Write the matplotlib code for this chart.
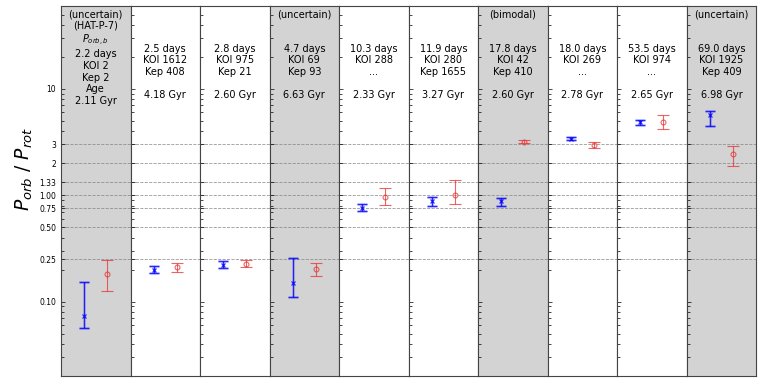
import matplotlib
matplotlib.use("Agg")
import matplotlib.pyplot as plt
import numpy as np
from matplotlib.ticker import FixedLocator, LogLocator, NullFormatter

# Column labels (one multi-line block per system)
headers = [
    "(uncertain)\n(HAT-P-7)\n$P_{orb,b}$\n2.2 days\nKOI 2\nKep 2\nAge\n2.11 Gyr",
    "\n\n\n2.5 days\nKOI 1612\nKep 408\n\n4.18 Gyr",
    "\n\n\n2.8 days\nKOI 975\nKep 21\n\n2.60 Gyr",
    "(uncertain)\n\n\n4.7 days\nKOI 69\nKep 93\n\n6.63 Gyr",
    "\n\n\n10.3 days\nKOI 288\n...\n\n2.33 Gyr",
    "\n\n\n11.9 days\nKOI 280\nKep 1655\n\n3.27 Gyr",
    "(bimodal)\n\n\n17.8 days\nKOI 42\nKep 410\n\n2.60 Gyr",
    "\n\n\n18.0 days\nKOI 269\n...\n\n2.78 Gyr",
    "\n\n\n53.5 days\nKOI 974\n...\n\n2.65 Gyr",
    "(uncertain)\n\n\n69.0 days\nKOI 1925\nKep 409\n\n6.98 Gyr",
]
shaded = [True, False, False, True, False, False, True, False, False, True]

# Blue (x) estimates: value, lower bound, upper bound
blue_val = [0.073, 0.200, 0.221, 0.149, 0.760, 0.889, 0.884, 3.39, 4.89, 5.69]
blue_lo = [0.057, 0.185, 0.206, 0.111, 0.716, 0.793, 0.793, 3.27, 4.62, 4.43]
blue_hi = [0.154, 0.216, 0.241, 0.255, 0.828, 0.970, 0.940, 3.51, 5.15, 6.25]

# Red (o) estimates: value, lower bound, upper bound
red_val = [0.182, 0.213, 0.227, 0.203, 0.970, 1.006, 3.19, 2.97, 4.83, 2.45]
red_lo = [0.126, 0.189, 0.213, 0.174, 0.805, 0.828, 3.08, 2.77, 4.23, 1.90]
red_hi = [0.248, 0.231, 0.248, 0.232, 1.16, 1.40, 3.31, 3.19, 5.74, 2.93]

ref_lines = [0.25, 0.5, 0.75, 1.0, 1.33, 2, 3]
yticks = [0.1, 0.25, 0.5, 0.75, 1.0, 1.33, 2, 3, 10]
ytick_labels = ["0.10", "0.25", "0.50", "0.75", "1.00", "1.33", "2", "3", "10"]

fig, axes = plt.subplots(1, len(headers), figsize=(7.63, 3.82), dpi=100, sharey=True)
fig.subplots_adjust(left=0.080, right=0.991, top=0.984, bottom=0.016, wspace=0)

for i, ax in enumerate(axes):
    if shaded[i]:
        ax.set_facecolor("lightgray")
    for y in ref_lines:
        ax.axhline(y, color="gray", ls="--", lw=0.6, alpha=0.8, zorder=1)

    b = blue_val[i]
    r = red_val[i]
    berr = [[b - blue_lo[i]], [blue_hi[i] - b]]
    rerr = [[r - red_lo[i]], [red_hi[i] - r]]
    # faint wide band behind blue bars
    ax.errorbar([1], [b], yerr=berr, fmt="none", ecolor="blue", elinewidth=2.2,
                capsize=3.5, capthick=2.2, alpha=0.2, zorder=2)
    ax.errorbar([1], [b], yerr=berr, fmt="x", color="blue", ms=3, mew=0.9,
                elinewidth=0.8, capsize=3.5, capthick=0.8, alpha=0.8, zorder=3)
    ax.errorbar([2], [r], yerr=rerr, fmt="o", color="#e83030", mfc="none", ms=3.5,
                mew=0.8, elinewidth=0.8, capsize=4, capthick=0.8, alpha=0.75, zorder=3)

    ax.text(0.5, 0.992, headers[i], transform=ax.transAxes, ha="center", va="top",
            fontsize=7, multialignment="center")

    ax.set_xlim(0, 3)
    ax.set_xticks([])
    ax.set_yscale("log")
    ax.set_ylim(0.02, 60)
    ax.yaxis.set_major_locator(FixedLocator(yticks))
    ax.yaxis.set_minor_locator(LogLocator(base=10, subs=np.arange(2, 10)))
    ax.yaxis.set_minor_formatter(NullFormatter())
    ax.tick_params(axis="y", which="both", direction="in", length=3, width=0.5,
                   labelsize=5.5, right=False)
    ax.tick_params(axis="y", which="minor", length=2)
    for sp in ax.spines.values():
        sp.set_color("#444444")
        sp.set_linewidth(0.8)

axes[0].set_yticklabels(ytick_labels)
axes[0].set_ylabel("$P_{orb}$ / $P_{rot}$", fontsize=13.5)
axes[0].yaxis.set_label_coords(-0.38, 0.56)

fig.savefig("out.png", dpi=100)
